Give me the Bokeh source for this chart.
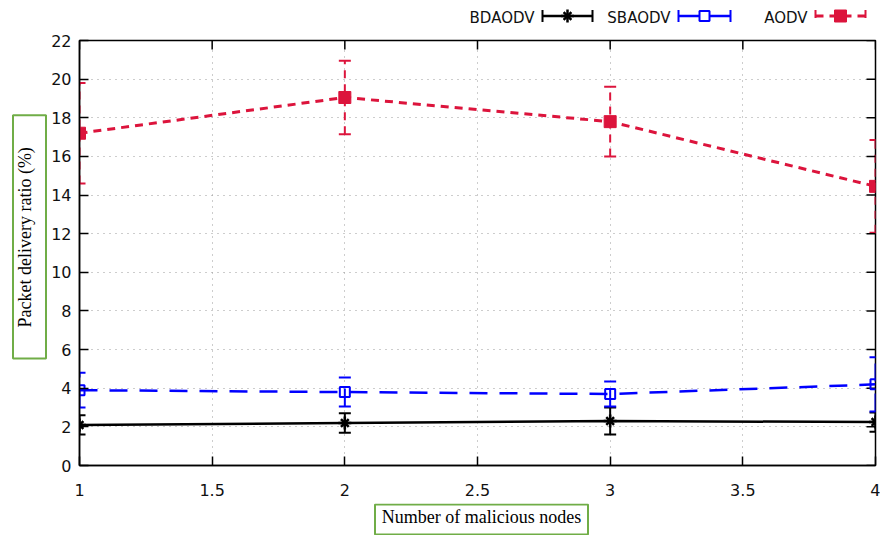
import math
from bokeh.plotting import figure
from bokeh.models import (ColumnDataSource, Whisker, TeeHead, FixedTicker, Range1d)
from bokeh.layouts import column, row
from bokeh.core.properties import value
from bokeh.embed import file_html
from bokeh.resources import INLINE

# ---------------- data ----------------
nodes = [1, 2, 3, 4]
bdaodv = [2.1, 2.2, 2.3, 2.25]
bdaodv_err = [0.5, 0.5, 0.7, 0.5]
sbaodv = [3.9, 3.8, 3.7, 4.2]
sbaodv_err = [0.9, 0.75, 0.65, 1.4]
aodv = [17.2, 19.05, 17.8, 14.45]
aodv_err = [2.6, 1.9, 1.8, 2.4]

series_names = ["BDAODV", "SBAODV", "AODV"]
x_ticks = [1, 1.5, 2, 2.5, 3, 3.5, 4]
x_tick_labels = ["1", "1.5", "2", "2.5", "3", "3.5", "4"]
y_ticks = [0, 2, 4, 6, 8, 10, 12, 14, 16, 18, 20, 22]
y_tick_labels = ["0", "2", "4", "6", "8", "10", "12", "14", "16", "18", "20", "22"]
x_title = "Number of malicious nodes"
y_title = "Packet delivery ratio (%)"

# ---------------- styles ----------------
BLACK = "#000000"
BLUE = "#0000ff"
RED = "#dc143c"
GREEN = "#70ad47"
styles = [
    dict(color=BLACK, dash="solid", width=2.5, leg_dash="solid"),
    dict(color=BLUE, dash="18 12", width=2.5, leg_dash="solid"),
    dict(color=RED, dash="8 6", width=3, leg_dash="8 6"),
]
TICK_FONT = "DejaVu Sans"
TITLE_FONT = "Liberation Serif"
W, H = 880, 535
LEG_H = 28      # legend strip on top
XLAB_H = 32     # x-title strip at bottom
YLAB_W = 47     # y-title strip on the left
MAIN_H = H - LEG_H - XLAB_H


def bare(fig):
    fig.outline_line_color = None
    fig.grid.visible = False
    fig.background_fill_color = "white"
    fig.border_fill_color = "white"
    return fig


# ---------------- main plot ----------------
p = figure(width=W - YLAB_W, height=MAIN_H, x_range=Range1d(1, 4), y_range=Range1d(0, 22),
           output_backend="svg", toolbar_location=None,
           min_border_left=32, min_border_right=5, min_border_top=12, min_border_bottom=38)
p.background_fill_color = "white"
p.border_fill_color = "white"
p.outline_line_color = BLACK
p.outline_line_width = 1.5

for ax in (p.xaxis[0], p.yaxis[0]):
    ax.major_tick_in = 9
    ax.major_tick_out = 0
    ax.minor_tick_line_color = None
    ax.axis_line_color = BLACK
    ax.axis_line_width = 1.5
    ax.major_tick_line_color = BLACK
    ax.major_tick_line_width = 1.5
    ax.major_label_text_font = TICK_FONT
    ax.major_label_text_font_size = "16px"
    ax.major_label_text_color = "#111111"

p.xaxis[0].ticker = FixedTicker(ticks=x_ticks)
p.xaxis[0].major_label_overrides = {t: l for t, l in zip(x_ticks, x_tick_labels)}
p.xaxis[0].major_label_standoff = 18
p.yaxis[0].ticker = FixedTicker(ticks=y_ticks)
p.yaxis[0].major_label_overrides = {t: l for t, l in zip(y_ticks, y_tick_labels)}
p.yaxis[0].major_label_standoff = 8

p.xgrid.ticker = FixedTicker(ticks=x_ticks)
p.ygrid.ticker = FixedTicker(ticks=y_ticks)
for g in (p.xgrid[0], p.ygrid[0]):
    g.grid_line_color = "#9a9a9a"
    g.grid_line_dash = "1 5"
    g.grid_line_width = 1

# mirror ticks on the top and right edges, 9 px long, pointing inwards
p.ray(x=x_ticks, y=[y_ticks[-1]] * len(x_ticks), length=9, length_units="screen",
      angle=-math.pi / 2, line_color=BLACK, line_width=1.5)
p.ray(x=[x_ticks[-1]] * len(y_ticks), y=y_ticks, length=9, length_units="screen",
      angle=math.pi, line_color=BLACK, line_width=1.5)

all_vals = [bdaodv, sbaodv, aodv]
all_errs = [bdaodv_err, sbaodv_err, aodv_err]
for i, (vals, errs) in enumerate(zip(all_vals, all_errs)):
    st = styles[i]
    src = ColumnDataSource(dict(x=nodes, y=vals,
                                lo=[v - e for v, e in zip(vals, errs)],
                                hi=[v + e for v, e in zip(vals, errs)]))
    p.line("x", "y", source=src, line_color=st["color"], line_width=st["width"],
           line_dash=st["dash"])
    w = Whisker(source=src, base="x", upper="hi", lower="lo",
                line_color=st["color"], line_width=2, line_dash=st["dash"],
                upper_head=TeeHead(size=12, line_color=st["color"], line_width=2),
                lower_head=TeeHead(size=12, line_color=st["color"], line_width=2))
    p.add_layout(w)
    if i == 0:
        p.scatter("x", "y", source=src, marker="cross", size=13, line_color=BLACK, line_width=2.5)
        p.scatter("x", "y", source=src, marker="x", size=11, line_color=BLACK, line_width=2.5)
    elif i == 1:
        p.scatter("x", "y", source=src, marker="square", size=10, line_color=BLUE,
                  fill_color=None, line_width=2)
    else:
        p.scatter("x", "y", source=src, marker="square", size=12, line_color=RED,
                  fill_color=RED, line_width=1)

# ---------------- y title strip (boxed, rotated) ----------------
yfig = bare(figure(width=YLAB_W, height=MAIN_H, x_range=Range1d(0, YLAB_W),
                   y_range=Range1d(0, MAIN_H), output_backend="svg", toolbar_location=None,
                   x_axis_type=None, y_axis_type=None, min_border=0, min_border_left=0,
                   min_border_right=0, min_border_top=0, min_border_bottom=0))
yfig.quad(left=[12.5], right=[45.5], bottom=[119.5], top=[391.5], fill_color="white",
          line_color=GREEN, line_width=2)
yfig.text(x=[24], y=[255], text=[y_title], angle=math.pi / 2, text_align="center",
          text_baseline="middle", text_font=value(TITLE_FONT), text_font_size="18px",
          text_color=BLACK)

# ---------------- x title strip (boxed) ----------------
xfig = bare(figure(width=W, height=XLAB_H, x_range=Range1d(0, W), y_range=Range1d(0, XLAB_H),
                   output_backend="svg", toolbar_location=None, x_axis_type=None,
                   y_axis_type=None, min_border=0, min_border_left=0, min_border_right=0,
                   min_border_top=0, min_border_bottom=0))
xfig.quad(left=[374.5], right=[587.5], bottom=[1], top=[31], fill_color="white",
          line_color=GREEN, line_width=2)
xfig.text(x=[481], y=[19], text=[x_title], text_align="center", text_baseline="middle",
          text_font=value(TITLE_FONT), text_font_size="18px", text_color=BLACK)

# ---------------- legend strip (gnuplot style: text then sample) ----------------
leg = bare(figure(width=W, height=LEG_H, x_range=Range1d(0, W), y_range=Range1d(LEG_H, 0),
                  output_backend="svg", toolbar_location=None, x_axis_type=None,
                  y_axis_type=None, min_border=0, min_border_left=0, min_border_right=0,
                  min_border_top=0, min_border_bottom=0))
text_right = [534, 670, 807]
samp_x0 = [542, 678, 815]
samp_x1 = [592, 730, 865]
row_y = 15.5
for i, name in enumerate(series_names):
    st = styles[i]
    leg.text(x=[text_right[i]], y=[row_y + 1.5], text=[name], text_align="right",
             text_baseline="middle", text_font=value(TICK_FONT), text_font_size="15px",
             text_color="#111111")
    xm = (samp_x0[i] + samp_x1[i]) / 2
    leg.segment(x0=[samp_x0[i]], y0=[row_y], x1=[samp_x1[i]], y1=[row_y],
                line_color=st["color"], line_width=st["width"], line_dash=st["leg_dash"])
    leg.segment(x0=[samp_x0[i], samp_x1[i]], y0=[row_y - 6, row_y - 6],
                x1=[samp_x0[i], samp_x1[i]], y1=[row_y + 6, row_y + 6],
                line_color=st["color"], line_width=2, line_dash=st["leg_dash"])
    if i == 0:
        leg.scatter([xm], [row_y], marker="cross", size=13, line_color=BLACK, line_width=2.5)
        leg.scatter([xm], [row_y], marker="x", size=11, line_color=BLACK, line_width=2.5)
    elif i == 1:
        leg.scatter([xm], [row_y], marker="square", size=10, line_color=BLUE,
                    fill_color="white", line_width=2)
    else:
        leg.scatter([xm], [row_y], marker="square", size=12, line_color=RED,
                    fill_color=RED, line_width=1)

layout = column(leg, row(yfig, p, spacing=0), xfig, spacing=0)
open("out.html", "w").write(file_html(layout, INLINE))
